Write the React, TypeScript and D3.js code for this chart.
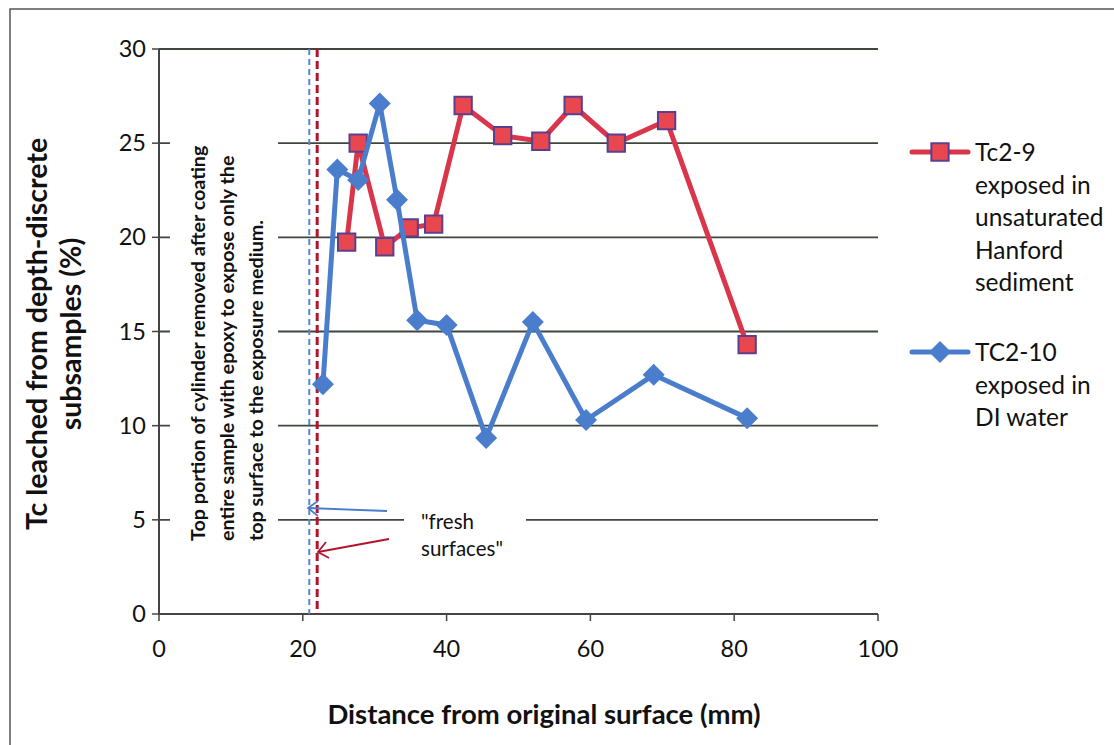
import React from "react";
import { scaleLinear, line as d3Line, symbol, symbolSquare } from "d3";

// Tc2-9 exposed in unsaturated Hanford sediment
const tc29X = [26.1, 27.7, 31.4, 34.8, 38.2, 42.3, 47.8, 53.1, 57.6, 63.6, 70.6, 81.8];
const tc29Y = [19.75, 25.0, 19.5, 20.5, 20.7, 27.0, 25.4, 25.1, 27.0, 25.0, 26.2, 14.3];

// TC2-10 exposed in DI water
const tc210X = [22.8, 24.8, 27.7, 30.7, 33.1, 35.9, 40.0, 45.5, 52.0, 59.4, 68.8, 81.8];
const tc210Y = [12.2, 23.6, 23.05, 27.1, 22.0, 15.6, 15.35, 9.35, 15.5, 10.3, 12.7, 10.4];

const xTicks = [0, 20, 40, 60, 80, 100];
const yTicks = [0, 5, 10, 15, 20, 25, 30];

const legendRed = ["Tc2-9", "exposed in", "unsaturated", "Hanford", "sediment"];
const legendBlue = ["TC2-10", "exposed in", "DI water"];
const noteLines = [
  "Top portion of cylinder removed after coating",
  "entire sample with epoxy to expose only the",
  "top surface to the exposure medium.",
];
const yTitle = ["Tc leached from depth-discrete", "subsamples (%)"];

// dashed marker positions (mm)
const blueCut = 20.9;
const redCut = 22.0;

const RED = "#d9364b";
const RED_FILL = "#e8474f";
const RED_EDGE = "#5b3f8f";
const BLUE = "#4a7dcc";
const GRID = "#3e463e";
const FONT = "Lato, 'Open Sans', sans-serif";

export default function App() {
  const x = scaleLinear().domain([0, 100]).range([159, 878]);
  const y = scaleLinear().domain([0, 30]).range([614, 49]);

  const lineGen = d3Line<[number, number]>()
    .x((d) => x(d[0]))
    .y((d) => y(d[1]));

  const red = tc29X.map((v, i) => [v, tc29Y[i]] as [number, number]);
  const blue = tc210X.map((v, i) => [v, tc210Y[i]] as [number, number]);

  const sq = symbol().type(symbolSquare).size(300)() as string;
  const diamond = "M0,-11L11,0L0,11L-11,0Z";

  return (
    <svg width={1114} height={745} style={{ position: "absolute", left: 0, top: 0, background: "#fff" }}>
      <rect x={0} y={0} width={1114} height={745} fill="#fff" />
      {/* outer frame */}
      <rect x={10} y={9} width={1200} height={800} fill="none" stroke="#555" strokeWidth={1.5} />

      {/* gridlines */}
      {yTicks.slice(1).map((t) => (
        <line key={t} x1={x(0)} x2={x(100)} y1={y(t)} y2={y(t)} stroke={GRID} strokeWidth={1.8} />
      ))}

      {/* white boxes behind annotations */}
      <rect x={170} y={56} width={108} height={552} fill="#fff" />
      <rect x={404} y={506} width={122} height={60} fill="#fff" />

      {/* axes */}
      <line x1={x(0)} x2={x(0)} y1={y(30)} y2={y(0)} stroke="#444" strokeWidth={2} />
      <line x1={x(0)} x2={x(100)} y1={y(0)} y2={y(0)} stroke="#444" strokeWidth={2} />
      {yTicks.map((t) => (
        <g key={t}>
          <line x1={x(0) - 7} x2={x(0)} y1={y(t)} y2={y(t)} stroke="#444" strokeWidth={1.5} />
          <text x={146} y={y(t) + 8} textAnchor="end" fontFamily={FONT} fontSize={23.5} fill="#111">
            {t}
          </text>
        </g>
      ))}
      {xTicks.map((t) => (
        <g key={t}>
          <line x1={x(t)} x2={x(t)} y1={y(0)} y2={y(0) + 7} stroke="#444" strokeWidth={1.5} />
          <text x={x(t)} y={657} textAnchor="middle" fontFamily={FONT} fontSize={23.5} fill="#111">
            {t}
          </text>
        </g>
      ))}

      {/* axis titles */}
      <text x={544} y={724} textAnchor="middle" fontFamily={FONT} fontWeight={700} fontSize={27.5} fill="#111">
        Distance from original surface (mm)
      </text>
      {yTitle.map((s, i) => (
        <text
          key={s}
          transform={`translate(${47 + i * 34},334) rotate(-90)`}
          textAnchor="middle"
          fontFamily={FONT}
          fontWeight={700}
          fontSize={28.5}
          fill="#111"
        >
          {s}
        </text>
      ))}

      {/* rotated note */}
      {noteLines.map((s, i) => (
        <text
          key={s}
          transform={`translate(${205 + i * 29},541) rotate(-90)`}
          fontFamily={FONT}
          fontWeight={700}
          fontSize={19.7}
          fill="#111"
        >
          {s}
        </text>
      ))}

      {/* dashed cut lines */}
      <line x1={x(blueCut)} x2={x(blueCut)} y1={y(30)} y2={y(0)} stroke="#5a86d0" strokeWidth={2} strokeDasharray="6 4" />
      <line x1={x(redCut)} x2={x(redCut)} y1={y(30)} y2={y(0)} stroke="#b3142c" strokeWidth={3} strokeDasharray="8 4" />

      {/* arrows */}
      <g fill="none" strokeWidth={1.8}>
        <line x1={387} y1={511} x2={308} y2={508} stroke={BLUE} />
        <polyline points="318,501 308,508 318,516" stroke={BLUE} />
        <line x1={389} y1={539} x2={318} y2={552} stroke="#b3142c" />
        <polyline points="326,542 318,552 329,558" stroke="#b3142c" />
      </g>
      <text fontFamily={FONT} fontSize={20.5} fill="#111">
        <tspan x={421} y={529}>"fresh</tspan>
        <tspan x={421} y={556}>surfaces"</tspan>
      </text>

      {/* series */}
      <path d={lineGen(red) ?? ""} fill="none" stroke={RED} strokeWidth={5} strokeLinejoin="round" />
      {red.map((d, i) => (
        <path key={i} d={sq} transform={`translate(${x(d[0])},${y(d[1])})`} fill={RED_FILL} stroke={RED_EDGE} strokeWidth={2} />
      ))}
      <path d={lineGen(blue) ?? ""} fill="none" stroke={BLUE} strokeWidth={5} strokeLinejoin="round" />
      {blue.map((d, i) => (
        <path key={i} d={diamond} transform={`translate(${x(d[0])},${y(d[1])})`} fill={BLUE} />
      ))}

      {/* legend */}
      <line x1={912} x2={968} y1={152} y2={152} stroke={RED} strokeWidth={5} strokeLinecap="round" />
      <path d={sq} transform="translate(940,152)" fill={RED_FILL} stroke={RED_EDGE} strokeWidth={2} />
      <text fontFamily={FONT} fontSize={24.5} fill="#111">
        {legendRed.map((s, i) => (
          <tspan key={i} x={975} y={161 + i * 32.5}>
            {s}
          </tspan>
        ))}
      </text>
      <line x1={912} x2={968} y1={352} y2={352} stroke={BLUE} strokeWidth={5} strokeLinecap="round" />
      <path d={diamond} transform="translate(940,352)" fill={BLUE} />
      <text fontFamily={FONT} fontSize={24.5} fill="#111">
        {legendBlue.map((s, i) => (
          <tspan key={i} x={975} y={361 + i * 32.5}>
            {s}
          </tspan>
        ))}
      </text>
    </svg>
  );
}
